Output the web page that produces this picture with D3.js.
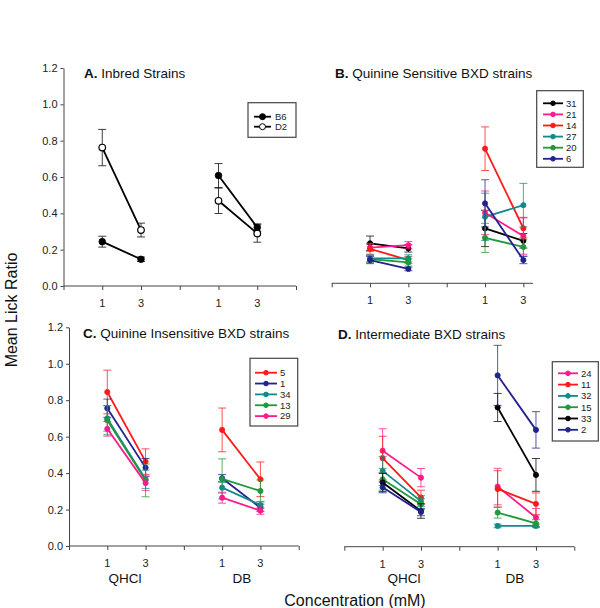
<!DOCTYPE html>
<html>
<head>
<meta charset="utf-8">
<script src="https://cdn.jsdelivr.net/npm/d3@7"></script>
<style>
  body { margin: 0; background: #fff; }
  svg { font-family: "Liberation Sans", Arial, sans-serif; }
</style>
</head>
<body>
<div id="chart"></div>
<script>
// x positions on the 0..6 axis: QHCl 1, QHCl 3, DB 1, DB 3
const doseSlots = [1, 2, 4, 5];
const doseLabels = ["1", "3", "1", "3"];
const yTicks = [0, 0.2, 0.4, 0.6, 0.8, 1.0, 1.2];

const strainsA = ["B6", "D2"];
const valuesA = [[0.244, 0.147, 0.608, 0.322], [0.762, 0.308, 0.469, 0.289]];
const errA = [[0.03, 0.012, 0.066, 0.02], [0.1, 0.038, 0.07, 0.048]];

const strainsB = ["31", "21", "14", "27", "20", "6"];
const colorsB = ["#000000", "#ff1a8c", "#ff1a1a", "#138a8a", "#1f9a3a", "#22228f"];
const valuesB = [
  [0.22, 0.192, 0.302, 0.234],
  [0.196, 0.21, 0.388, 0.26],
  [0.19, 0.128, 0.741, 0.303],
  [0.137, 0.137, 0.366, 0.43],
  [0.133, 0.115, 0.25, 0.2],
  [0.128, 0.079, 0.44, 0.128]];
const errB = [
  [0.04, 0.02, 0.1, 0.04],
  [0.02, 0.02, 0.12, 0.1],
  [0.03, 0.02, 0.12, 0.06],
  [0.02, 0.02, 0.13, 0.12],
  [0.02, 0.02, 0.08, 0.05],
  [0.02, 0.01, 0.13, 0.02]];

const strainsC = ["5", "1", "34", "13", "29"];
const colorsC = ["#ff1a1a", "#22228f", "#138a8a", "#1f9a3a", "#ff1a8c"];
const valuesC = [
  [0.845, 0.463, 0.637, 0.366],
  [0.756, 0.43, 0.372, 0.21],
  [0.70, 0.366, 0.32, 0.225],
  [0.69, 0.36, 0.368, 0.302],
  [0.643, 0.345, 0.265, 0.194]];
const errC = [
  [0.12, 0.07, 0.12, 0.095],
  [0.05, 0.05, 0.02, 0.02],
  [0.07, 0.05, 0.03, 0.02],
  [0.08, 0.09, 0.11, 0.06],
  [0.04, 0.04, 0.03, 0.02]];

const strainsD = ["24", "11", "32", "15", "33", "2"];
const colorsD = ["#ff1a8c", "#ff1a1a", "#138a8a", "#1f9a3a", "#000000", "#22228f"];
const valuesD = [
  [0.527, 0.379, 0.33, 0.16],
  [0.486, 0.27, 0.317, 0.235],
  [0.416, 0.25, 0.114, 0.114],
  [0.37, 0.233, 0.187, 0.128],
  [0.352, 0.196, 0.764, 0.394],
  [0.326, 0.19, 0.94, 0.641]];
const errD = [
  [0.12, 0.05, 0.1, 0.05],
  [0.12, 0.04, 0.1, 0.06],
  [0.08, 0.03, 0.01, 0.01],
  [0.06, 0.03, 0.03, 0.02],
  [0.05, 0.04, 0.077, 0.09],
  [0.03, 0.02, 0.165, 0.1]];

const svg = d3.select("#chart").append("svg")
  .attr("width", 600).attr("height", 608);

const panels = [
  { letter: "A.", title: " Inbred Strains", tx: 84, ty: 78,
    x0: 63.5, x6: 296, y0: 286, y12: 68, showY: true, axisEnd: 6,
    strains: strainsA, colors: ["#000", "#000"], values: valuesA, errs: errA,
    open: [false, true], r: 3.3,
    leg: { x: 248, y: 102.7, w: 48, h: 34.6, y1: 116.7, dy: 10, lx0: 254, lx1: 271, tx: 275 } },
  { letter: "B.", title: " Quinine Sensitive BXD strains", tx: 335, ty: 78,
    x0: 331.7, x6: 561.7, y0: 283.3, y12: 65.3, showY: false, axisEnd: 5.25,
    strains: strainsB, colors: colorsB, values: valuesB, errs: errB, r: 2.6,
    leg: { x: 536.7, y: 90.7, w: 46.6, h: 76.6, y1: 103.3, dy: 11.1, lx0: 543, lx1: 563, tx: 566 } },
  { letter: "C.", title: " Quinine Insensitive BXD strains", tx: 83, ty: 338,
    x0: 69, x6: 298.7, y0: 546, y12: 327.3, showY: true, axisEnd: 6,
    strains: strainsC, colors: colorsC, values: valuesC, errs: errC, r: 2.6,
    leg: { x: 250, y: 358.3, w: 47.7, h: 67.7, y1: 372.7, dy: 10.85, lx0: 255, lx1: 277, tx: 280 } },
  { letter: "D.", title: " Intermediate BXD strains", tx: 338, ty: 339,
    x0: 344.3, x6: 574.3, y0: 546.7, y12: 328, showY: false, axisEnd: 6,
    strains: strainsD, colors: colorsD, values: valuesD, errs: errD, r: 2.6,
    leg: { x: 552.3, y: 361.7, w: 46, h: 79.3, y1: 373.3, dy: 11.3, lx0: 558, lx1: 578, tx: 581 } }
];

panels.forEach((p) => {
  const x = d3.scaleLinear().domain([0, 6]).range([p.x0, p.x6]);
  const y = d3.scaleLinear().domain([0, 1.2]).range([p.y0, p.y12]);
  const g = svg.append("g");

  // x axis
  const xa = g.append("g").attr("transform", `translate(0,${p.y0})`)
    .call(d3.axisBottom(x).tickValues(d3.range(0, 7).filter(v => v <= p.axisEnd))
      .tickSize(4).tickSizeOuter(0).tickFormat(""));
  xa.select(".domain").attr("d", `M${x(0)},0H${x(p.axisEnd)}`);
  xa.selectAll("path, line").attr("stroke", "#444");
  doseSlots.forEach((s, i) => {
    g.append("text").attr("x", x(s)).attr("y", p.y0 + 21)
      .attr("text-anchor", "middle").attr("font-size", 11).attr("fill", "#222")
      .text(doseLabels[i]);
  });

  // y axis
  if (p.showY) {
    const ya = g.append("g").attr("transform", `translate(${p.x0},0)`)
      .call(d3.axisLeft(y).tickValues(yTicks).tickSize(3).tickSizeOuter(0)
        .tickFormat(d3.format(".1f")));
    ya.selectAll("path, line").attr("stroke", "#444");
    ya.selectAll("text").attr("font-size", 11).attr("fill", "#222")
      .attr("font-family", "Liberation Sans, Arial, sans-serif");
  }

  // title
  const t = g.append("text").attr("x", p.tx).attr("y", p.ty)
    .attr("font-size", 13.5).attr("fill", "#111");
  t.append("tspan").attr("font-weight", "bold").text(p.letter);
  t.append("tspan").text(p.title);

  // series
  p.strains.forEach((s, k) => {
    const col = p.colors[k];
    const vals = p.values[k], errs = p.errs[k];
    const sg = g.append("g");
    doseSlots.forEach((slot, i) => {
      const cx = x(slot);
      sg.append("line").attr("x1", cx).attr("x2", cx)
        .attr("y1", y(vals[i] - errs[i])).attr("y2", y(vals[i] + errs[i]))
        .attr("stroke", col).attr("stroke-opacity", 0.75).attr("stroke-width", 1);
      [vals[i] - errs[i], vals[i] + errs[i]].forEach((v) => {
        sg.append("line").attr("x1", cx - 4).attr("x2", cx + 4)
          .attr("y1", y(v)).attr("y2", y(v))
          .attr("stroke", col).attr("stroke-opacity", 0.75).attr("stroke-width", 1);
      });
    });
    [[0, 1], [2, 3]].forEach(([a, b]) => {
      sg.append("line")
        .attr("x1", x(doseSlots[a])).attr("y1", y(vals[a]))
        .attr("x2", x(doseSlots[b])).attr("y2", y(vals[b]))
        .attr("stroke", col).attr("stroke-width", 1.8);
    });
    doseSlots.forEach((slot, i) => {
      const isOpen = p.open && p.open[k];
      sg.append("circle").attr("cx", x(slot)).attr("cy", y(vals[i])).attr("r", p.r)
        .attr("fill", isOpen ? "#fff" : col)
        .attr("stroke", col).attr("stroke-width", isOpen ? 1.2 : 0.8);
    });
  });

  // legend
  const L = p.leg;
  g.append("rect").attr("x", L.x).attr("y", L.y).attr("width", L.w).attr("height", L.h)
    .attr("fill", "#fff").attr("stroke", "#444").attr("stroke-width", 1.2);
  p.strains.forEach((s, k) => {
    const ly = L.y1 + k * L.dy;
    const col = p.colors[k];
    const isOpen = p.open && p.open[k];
    g.append("line").attr("x1", L.lx0).attr("x2", L.lx1).attr("y1", ly).attr("y2", ly)
      .attr("stroke", col).attr("stroke-width", 1.8);
    g.append("circle").attr("cx", (L.lx0 + L.lx1) / 2).attr("cy", ly)
      .attr("r", isOpen || p.open ? 3 : 2.3)
      .attr("fill", isOpen ? "#fff" : col).attr("stroke", col);
    g.append("text").attr("x", L.tx).attr("y", ly + 3.3)
      .attr("font-size", 9.5).attr("fill", "#222").text(s);
  });
});

// group labels and axis titles
[[125, "QHCl"], [242, "DB"], [404, "QHCl"], [515, "DB"]].forEach(([cx, lab]) => {
  svg.append("text").attr("x", cx).attr("y", 583).attr("text-anchor", "middle")
    .attr("font-size", 13.5).attr("fill", "#111").text(lab);
});
svg.append("text").attr("x", 355).attr("y", 606).attr("text-anchor", "middle")
  .attr("font-size", 16).attr("fill", "#111").text("Concentration (mM)");
svg.append("text").attr("transform", "translate(17,310) rotate(-90)")
  .attr("text-anchor", "middle").attr("font-size", 16).attr("fill", "#111")
  .text("Mean Lick Ratio");
</script>
</body>
</html>
